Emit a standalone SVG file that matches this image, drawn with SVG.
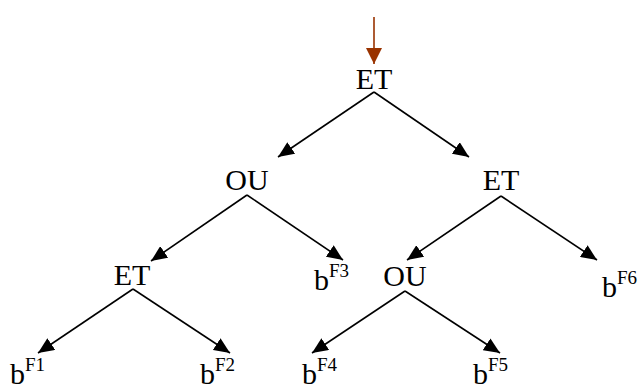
<svg xmlns="http://www.w3.org/2000/svg" width="638" height="384" viewBox="0 0 638 384">
<style>
.t{font-family:"Liberation Serif","Times New Roman",serif;font-size:30px;fill:#000}
.s{font-size:19px}
.c{stroke:#000;stroke-width:1.6;fill:none}
</style>
<defs>
<marker id="ah" markerUnits="userSpaceOnUse" markerWidth="17" markerHeight="14" refX="16" refY="7" orient="auto"><path d="M0,0 L16,7 L0,14 z" fill="#000"/></marker>
<marker id="ahr" markerUnits="userSpaceOnUse" markerWidth="17" markerHeight="16" refX="16" refY="8" orient="auto"><path d="M0,0 L16,8 L0,16 z" fill="#993300"/></marker>
</defs>
<rect width="638" height="384" fill="#fff"/>
<g id="connectors">
<line x1="374" y1="17" x2="374" y2="64" stroke="#993300" stroke-width="1.6" marker-end="url(#ahr)"/>
<line class="c" x1="374" y1="92" x2="278" y2="157" marker-end="url(#ah)"/>
<line class="c" x1="374" y1="92" x2="469" y2="157" marker-end="url(#ah)"/>
<line class="c" x1="247" y1="195" x2="151" y2="261" marker-end="url(#ah)"/>
<line class="c" x1="247" y1="195" x2="343" y2="260" marker-end="url(#ah)"/>
<line class="c" x1="501" y1="196" x2="407" y2="260" marker-end="url(#ah)"/>
<line class="c" x1="501" y1="196" x2="597" y2="260" marker-end="url(#ah)"/>
<line class="c" x1="133" y1="289" x2="38" y2="353" marker-end="url(#ah)"/>
<line class="c" x1="133" y1="289" x2="230" y2="353" marker-end="url(#ah)"/>
<line class="c" x1="405" y1="291" x2="312" y2="353" marker-end="url(#ah)"/>
<line class="c" x1="405" y1="291" x2="500" y2="353" marker-end="url(#ah)"/>
</g>
<g id="n_root"><text class="t" x="374" y="89" text-anchor="middle">ET</text></g>
<g id="n_ou1"><text class="t" x="247" y="190" text-anchor="middle">OU</text></g>
<g id="n_et2"><text class="t" x="501" y="190" text-anchor="middle">ET</text></g>
<g id="n_et3"><text class="t" x="132" y="285" text-anchor="middle">ET</text></g>
<g id="n_ou2"><text class="t" x="405" y="286" text-anchor="middle">OU</text></g>
<g id="n_f3"><text class="t" x="314" y="290">b<tspan class="s" dy="-13">F3</tspan></text></g>
<g id="n_f6"><text class="t" x="602" y="297">b<tspan class="s" dy="-13">F6</tspan></text></g>
<g id="n_f1"><text class="t" x="10" y="384">b<tspan class="s" dy="-13">F1</tspan></text></g>
<g id="n_f2"><text class="t" x="200" y="384">b<tspan class="s" dy="-13">F2</tspan></text></g>
<g id="n_f4"><text class="t" x="302" y="384">b<tspan class="s" dy="-13">F4</tspan></text></g>
<g id="n_f5"><text class="t" x="473" y="384">b<tspan class="s" dy="-13">F5</tspan></text></g>
</svg>
